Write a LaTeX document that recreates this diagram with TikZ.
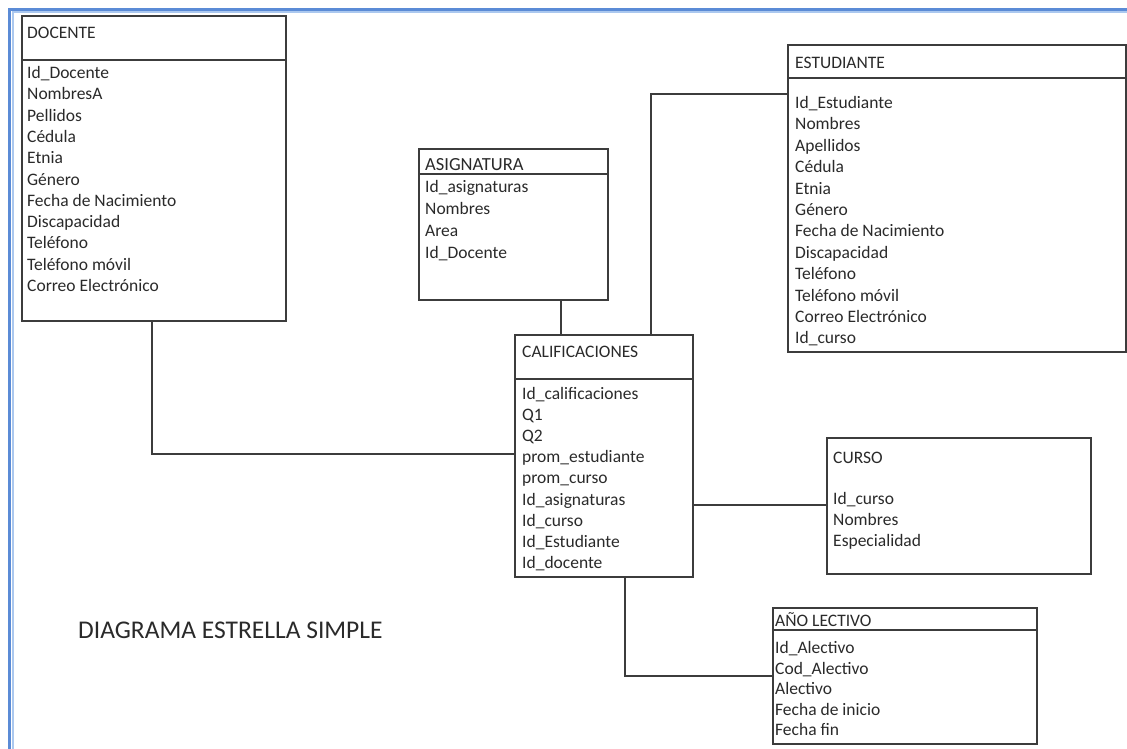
\documentclass[tikz,border=0pt]{standalone}
\usepackage{fontspec}
\setmainfont{Carlito}
\definecolor{frameblue}{HTML}{5B8BD6}
\definecolor{framelight}{HTML}{ABC8EF}
\definecolor{boxline}{HTML}{3C3C3C}
\definecolor{ink}{HTML}{2A2A2A}
\tikzset{
  table/.style={draw=boxline, line width=1.8pt, fill=white, rectangle, inner sep=0pt,
    anchor=north west, minimum width=#1},
  sepline/.style={draw=boxline, line width=1.8pt},
  link/.style={draw=boxline, line width=1.9pt, line join=miter},
  field/.style={inner sep=0pt, anchor=base west, text=ink, font=\fontsize{17.5}{21}\selectfont},
  heading/.style={field},
  caption/.style={inner sep=0pt, anchor=base west, text=ink, font=\fontsize{25.5}{30}\selectfont},
}
\begin{document}
\begin{tikzpicture}[x=1pt, y=-1pt]
\useasboundingbox (0,0) rectangle (1127,749);
\fill[white] (0,0) rectangle (1127,749);

% page frame
\draw[framelight, line width=2pt] (12.5,749) -- (12.5,12.5) -- (1127,12.5);
\draw[frameblue, line width=2.6pt] (9.5,749) -- (9.5,9.5) -- (1127,9.5);

% ---------------- connectors (drawn first, boxes sit on top)
\coordinate (kDoc) at (152,454);
\coordinate (kEst) at (651,94);
\coordinate (kAno) at (625,676);

% ---------------- DOCENTE
\node[table=264pt, minimum height=305pt] (doc) at (21,15) {};
\draw[sepline] (doc.north west |- 0,60) -- (doc.north east |- 0,60);
\node[heading] (docT) at (27,38.5) {DOCENTE};
\foreach \t [count=\i] in {Id\_Docente, NombresA, Pellidos, Cédula, Etnia, Género,
  Fecha de Nacimiento, Discapacidad, Teléfono, Teléfono móvil, Correo Electrónico}
  \node[field] (doc-\i) at (27,{78.5+21.3*(\i-1)}) {\t};

% ---------------- ASIGNATURA
\node[table=189pt, minimum height=151pt] (asi) at (418,148) {};
\draw[sepline] (asi.north west |- 0,174) -- (asi.north east |- 0,174);
\node[heading, font=\fontsize{18.5}{22}\selectfont] (asiT) at (425,170) {ASIGNATURA};
\foreach \t [count=\i] in {Id\_asignaturas, Nombres, Area, Id\_Docente}
  \node[field] (asi-\i) at (425,{192+22*(\i-1)}) {\t};

% ---------------- CALIFICACIONES
\node[table=178pt, minimum height=242pt] (cal) at (514,334) {};
\draw[sepline] (cal.north west |- 0,379) -- (cal.north east |- 0,379);
\node[heading] (calT) at (522,357) {CALIFICACIONES};
\foreach \t [count=\i] in {Id\_calificaciones, Q1, Q2, prom\_estudiante, prom\_curso,
  Id\_asignaturas, Id\_curso, Id\_Estudiante, Id\_docente}
  \node[field] (cal-\i) at (522,{399.5+21.1*(\i-1)}) {\t};

% ---------------- ESTUDIANTE
\node[table=338pt, minimum height=307pt] (est) at (787,44) {};
\draw[sepline] (est.north west |- 0,78) -- (est.north east |- 0,78);
\node[heading] (estT) at (795,68.5) {ESTUDIANTE};
\foreach \t [count=\i] in {Id\_Estudiante, Nombres, Apellidos, Cédula, Etnia, Género,
  Fecha de Nacimiento, Discapacidad, Teléfono, Teléfono móvil, Correo Electrónico, Id\_curso}
  \node[field] (est-\i) at (795,{108.5+21.4*(\i-1)}) {\t};

% ---------------- CURSO
\node[table=264pt, minimum height=136pt] (cur) at (826,437) {};
\node[heading] (curT) at (833,463) {CURSO};
\foreach \t [count=\i] in {Id\_curso, Nombres, Especialidad}
  \node[field] (cur-\i) at (833,{504.5+21*(\i-1)}) {\t};

% ---------------- AÑO LECTIVO
\node[table=264pt, minimum height=136pt] (ano) at (772,607) {};
\node[heading] (anoT) at (775,626.5) {AÑO LECTIVO};
\draw[sepline] (ano.north west |- 0,630) -- (ano.north east |- 0,630);
\foreach \t [count=\i] in {Id\_Alectivo, Cod\_Alectivo, Alectivo, Fecha de inicio, Fecha fin}
  \node[field] (ano-\i) at (775,{653.5+20.6*(\i-1)}) {\t};

% ---------------- relations
\draw[link] (doc.south -| kDoc) -- (kDoc) -- (cal.west |- kDoc);
\draw[link] (asi.south -| 561,0) -- (cal.north -| 561,0);
\draw[link] (cal.north -| kEst) -- (kEst) -- (est.west |- kEst);
\draw[link] (cal.east |- 0,505) -- (cur.west |- 0,505);
\draw[link] (cal.south -| kAno) -- (kAno) -- (ano.west |- kAno);

% ---------------- caption
\node[caption] (title) at (78,638) {DIAGRAMA ESTRELLA SIMPLE};
\end{tikzpicture}
\end{document}
